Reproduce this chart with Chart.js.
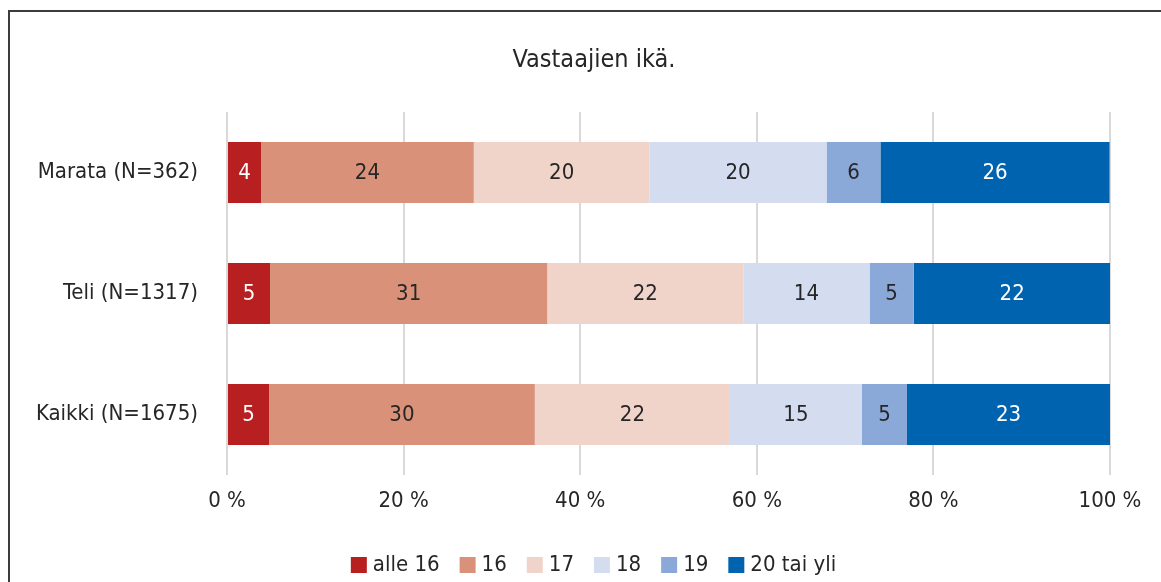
<!DOCTYPE html>
<html><head><meta charset="utf-8">
<script src="https://cdn.jsdelivr.net/npm/chart.js@4"></script>
<style>
html,body{margin:0;padding:0;background:#fff;overflow:hidden;}
#wrap{position:relative;width:1161px;height:582px;}
#frame{position:absolute;left:8px;top:10px;width:1300px;height:700px;border:2px solid #3c3c3c;box-sizing:border-box;pointer-events:none;}
canvas{position:absolute;left:0;top:0;}
</style></head>
<body><div id="wrap"><canvas id="c" width="1161" height="582"></canvas><div id="frame"></div></div>
<script>
const titleText = 'Vastaajien ikä.';
const categories = ['Marata (N=362)', 'Teli (N=1317)', 'Kaikki (N=1675)'];
const seriesNames = ['alle 16', '16', '17', '18', '19', '20 tai yli'];
const alle16 = [3.85, 4.87, 4.76];
const age16 = [24.1, 31.4, 30.1];
const age17 = [19.9, 22.2, 22.1];
const age18 = [20.05, 14.3, 14.95];
const age19 = [6.1, 5.0, 5.1];
const age20plus = [25.95, 22.3, 23.0];
const xTicks = ['0 %', '20 %', '40 %', '60 %', '80 %', '100 %'];

const colors = ['#B81F21', '#DA917A', '#F1D4C9', '#D4DCF0', '#8BA9D8', '#0063AF'];
const labelColors = ['#ffffff', '#262626', '#262626', '#262626', '#262626', '#ffffff'];
const FONT = "'DejaVu Sans Condensed', 'DejaVu Sans', sans-serif";

const seriesData = [alle16, age16, age17, age18, age19, age20plus];
const datasets = seriesData.map((d, i) => ({
  label: seriesNames[i], data: d, backgroundColor: colors[i], borderWidth: 0,
  barPercentage: 0.505, categoryPercentage: 1.0
}));

const valueLabels = {
  id: 'valueLabels',
  afterDatasetsDraw(chart) {
    const ctx = chart.ctx;
    ctx.save();
    ctx.font = '22px ' + FONT;
    ctx.textAlign = 'center';
    ctx.textBaseline = 'middle';
    chart.data.datasets.forEach((ds, i) => {
      const meta = chart.getDatasetMeta(i);
      meta.data.forEach((bar, j) => {
        const v = ds.data[j];
        const cx = (bar.x + bar.base) / 2;
        ctx.fillStyle = labelColors[i];
        ctx.fillText(String(Math.round(v)), cx, bar.y + 1);
      });
    });
    ctx.restore();
  }
};

const titleDraw = {
  id: 'titleDraw',
  afterDraw(chart) {
    const ctx = chart.ctx;
    ctx.save();
    ctx.font = '25px ' + FONT;
    ctx.fillStyle = '#262626';
    ctx.textAlign = 'center';
    ctx.textBaseline = 'middle';
    ctx.fillText(titleText, 594, 60);
    ctx.restore();
  }
};

new Chart(document.getElementById('c'), {
  type: 'bar',
  data: { labels: categories, datasets },
  options: {
    indexAxis: 'y',
    responsive: false,
    animation: false,
    layout: { padding: { left: 31, right: 0, top: 112, bottom: -4 } },
    scales: {
      x: {
        stacked: true, min: 0, max: 100,
        grid: { color: '#D9D9D9', lineWidth: 2, drawTicks: false },
        border: { display: false },
        ticks: { stepSize: 20, padding: 13, color: '#262626', font: { size: 22, family: FONT },
          callback: (v, idx) => xTicks[idx] },
        afterFit: s => { s.height = 54; }
      },
      y: {
        stacked: true,
        grid: { display: false, drawTicks: false },
        border: { display: false },
        ticks: { padding: 29, color: '#262626', font: { size: 22, family: FONT } },
        afterFit: s => { s.width = 196; }
      },
      yRight: {
        type: 'category', position: 'right', labels: categories,
        grid: { display: false, drawTicks: false },
        border: { display: false },
        ticks: { display: false },
        afterFit: s => { s.width = 51; }
      }
    },
    plugins: {
      title: { display: false },
      legend: { position: 'bottom',
        labels: { usePointStyle: true, pointStyle: 'rect', boxWidth: 6, boxHeight: 16,
          padding: 25, color: '#262626', font: { size: 22, family: FONT } } },
      tooltip: { enabled: false }
    }
  },
  plugins: [valueLabels, titleDraw]
});
</script></body></html>
